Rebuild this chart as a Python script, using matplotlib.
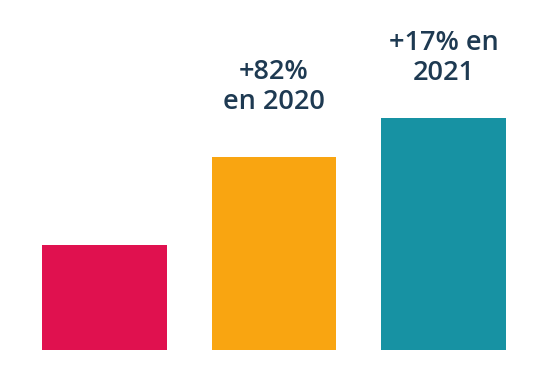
import matplotlib.pyplot as plt

plt.rcParams['font.family'] = ['Open Sans', 'DejaVu Sans']

years = ['2019', '2020', '2021']
values = [105, 193, 232]
labels = ['', '+82%\nen 2020', '+17% en\n2021']
label_gap = [0, 41, 31]
colors = ['#E0114F', '#F9A511', '#1792A3']
text_color = '#1E3A52'

fig = plt.figure(figsize=(5.5, 3.73), dpi=100)
ax = fig.add_axes([0, 23 / 373, 1, 350 / 373])

x = range(len(years))
ax.bar(x, values, width=0.737, color=colors)

for i, (v, lab) in enumerate(zip(values, labels)):
    if lab:
        ax.text(i, v + label_gap[i], lab, ha='center', va='bottom',
                fontsize=19.5, color=text_color, fontweight='semibold',
                linespacing=1.1)

ax.set_xlim(-0.6165, 2.628)
ax.set_ylim(0, 350)
ax.axis('off')

fig.savefig('out.png', dpi=100)
